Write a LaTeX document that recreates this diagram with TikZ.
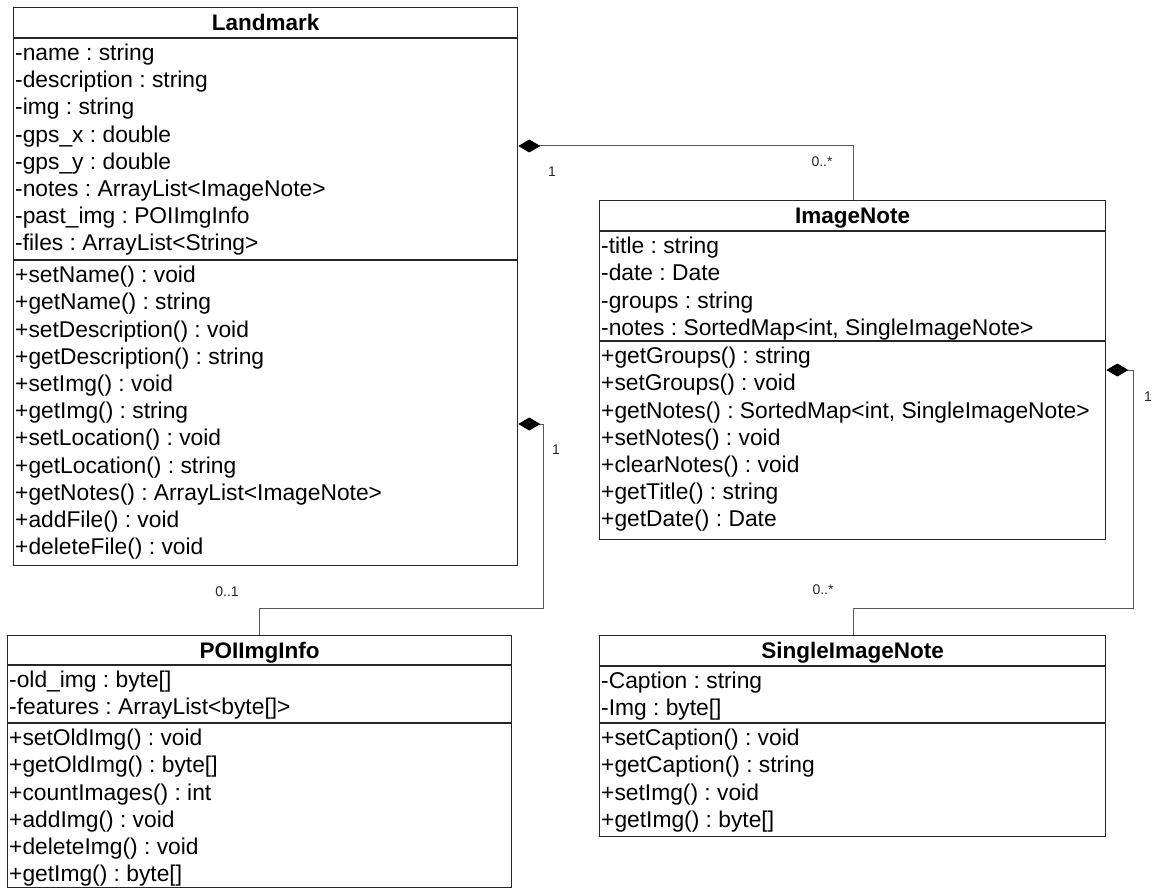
\documentclass[tikz,border=0pt]{standalone}
\usepackage{fontspec}
\setmainfont{Liberation Sans}
\usetikzlibrary{arrows.meta}
\frenchspacing

% one text line per member, evenly spaced inside a compartment
\newcommand\memberrows[4]{%
  \foreach \m [count=\k] in {#4} {%
    \node[member] (#1\k) at (#2, {#3 + 22.6 + (\k-1)*27.2}) {\m};}}

\begin{document}
\begin{tikzpicture}[x=1pt, y=-1pt,
  classbox/.style={draw=black!85, line width=1.3pt, fill=white, inner sep=0pt, anchor=north west},
  sepline/.style={draw=black!85, line width=1.3pt},
  member/.style={anchor=base west, inner sep=0pt, font=\fontsize{22.8}{27}\selectfont},
  classname/.style={anchor=base, inner sep=0pt, font=\fontsize{22.5}{27}\selectfont\bfseries},
  assoc/.style={draw=black!65, line width=1pt, {Diamond[length=22pt,width=13pt,color=black]}-},
  mult/.style={inner sep=0pt, font=\fontsize{14}{16}\selectfont, text=black!85}]

\useasboundingbox (0,0) rectangle (1152,888);

% ---------- class boxes ----------
\node[classbox, minimum width=504pt, minimum height=558pt] (landmark) at (13,7) {};
\node[classbox, minimum width=506pt, minimum height=339pt] (imagenote) at (599,200) {};
\node[classbox, minimum width=504pt, minimum height=251.5pt] (poi) at (7,635) {};
\node[classbox, minimum width=506pt, minimum height=201pt] (single) at (599,635) {};

% compartment separators
\foreach \n/\y in {landmark/38, landmark/260, imagenote/231, imagenote/341,
                   poi/665, poi/723, single/666, single/723}
  \draw[sepline] (\n.west |- 0,\y) -- (\n.east |- 0,\y);

% ---------- class names ----------
\node[classname] (landmark-name) at (landmark.north |- 0,30.5) {Landmark};
\node[classname] (imagenote-name) at (imagenote.north |- 0,223.5) {ImageNote};
\node[classname] (poi-name) at (poi.north |- 0,658) {POIImgInfo};
\node[classname] (single-name) at (single.north |- 0,658.5) {SingleImageNote};

% ---------- members ----------
\memberrows{lma}{15}{38}{-name : string, -description : string, -img : string,
  -gps\_x : double, -gps\_y : double, -notes : ArrayList<ImageNote>,
  -past\_img : POIImgInfo, -files : ArrayList<String>}
\memberrows{lmo}{15}{260}{+setName() : void, +getName() : string,
  +setDescription() : void, +getDescription() : string, +setImg() : void,
  +getImg() : string, +setLocation() : void, +getLocation() : string,
  +getNotes() : ArrayList<ImageNote>, +addFile() : void, +deleteFile() : void}

\memberrows{ina}{601}{231}{-title : string, -date : Date, -groups : string,
  {-notes : SortedMap<int, SingleImageNote>}}
\memberrows{ino}{601}{341}{+getGroups() : string, +setGroups() : void,
  {+getNotes() : SortedMap<int, SingleImageNote>}, +setNotes() : void,
  +clearNotes() : void, +getTitle() : string, +getDate() : Date}

\memberrows{pia}{9}{665}{-old\_img : byte[], -features : ArrayList<byte[]>}
\memberrows{pio}{9}{723}{+setOldImg() : void, +getOldImg() : byte[],
  +countImages() : int, +addImg() : void, +deleteImg() : void, +getImg() : byte[]}

\memberrows{sna}{601}{666}{-Caption : string, -Img : byte[]}
\memberrows{sno}{601}{723}{+setCaption() : void, +getCaption() : string,
  +setImg() : void, +getImg() : byte[]}

% ---------- compositions ----------
\draw[assoc] (landmark.east |- 0,146) -| (imagenote.north -| 853,0);
\draw[assoc] (landmark.east |- 0,424) -| (543,608) -| (poi.north -| 259,0);
\draw[assoc] (imagenote.east |- 0,370) -| (1133,608) -| (single.north -| 853,0);

% multiplicities
\node[mult] (m1a) at (552,172) {1};
\node[mult] (m1b) at (822,162) {0..*};
\node[mult] (m2a) at (556,450) {1};
\node[mult] (m2b) at (227,592) {0..1};
\node[mult] (m3a) at (1148,397) {1};
\node[mult] (m3b) at (823,590) {0..*};
\end{tikzpicture}
\end{document}
